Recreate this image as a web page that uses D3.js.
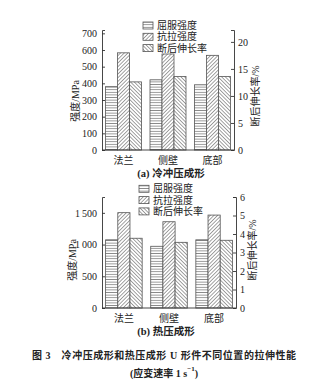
<!DOCTYPE html>
<html><head><meta charset="utf-8">
<script src="https://cdn.jsdelivr.net/npm/d3@7"></script>
<style>
html,body{margin:0;padding:0;background:#fff;}
svg{display:block;}
text{fill:#222;}
</style></head>
<body>
<svg id="c" width="326" height="384"></svg>
<script>
// ---- data ----
const categories = ["法兰", "侧壁", "底部"];
const seriesNames = ["屈服强度", "抗拉强度", "断后伸长率"];
const coldYield = [380, 421, 391];
const coldTensile = [583, 576, 568];
const coldElong = [12.6, 13.6, 13.6];
const hotYield = [1075, 973, 1075];
const hotTensile = [1503, 1360, 1465];
const hotElong = [3.77, 3.55, 3.66];
const coldLeftTicks = [0, 100, 200, 300, 400, 500, 600, 700];
const coldRightTicks = [0, 5, 10, 15, 20];
const hotLeftTicks = [0, 500, 1000, 1500];
const hotRightTicks = [0, 1, 2, 3, 4, 5, 6];
const titleA = "(a) 冷冲压成形";
const titleB = "(b) 热压成形";
const caption1 = "图 3　冷冲压成形和热压成形 U 形件不同位置的拉伸性能";
const leftLabel = "强度/MPa";
const rightLabel = "断后伸长率/%";

const svg = d3.select("#c");
const FONT = "'Liberation Serif','Noto Sans CJK SC',serif";
const CJK = "'Noto Sans CJK SC',sans-serif";

// patterns
const defs = svg.append("defs");
function pat(id, rot, sp) {
  const p = defs.append("pattern").attr("id", id).attr("patternUnits", "userSpaceOnUse")
    .attr("width", sp).attr("height", sp);
  if (rot !== null) p.attr("patternTransform", `rotate(${rot})`);
  p.append("rect").attr("width", sp).attr("height", sp).attr("fill", "#fff");
  if (rot === null) {
    p.append("line").attr("x1", 0).attr("x2", sp).attr("y1", sp / 2).attr("y2", sp / 2)
      .attr("stroke", "#8a8a8a").attr("stroke-width", 0.9);
  } else {
    p.append("line").attr("y1", 0).attr("y2", sp).attr("x1", sp / 2).attr("x2", sp / 2)
      .attr("stroke", "#8a8a8a").attr("stroke-width", 0.8);
  }
}
pat("pH", null, 2.6);
pat("pF", 45, 2.6);
pat("pB", -45, 2.6);
const fills = ["url(#pH)", "url(#pF)", "url(#pB)"];

function panel(cfg) {
  const g = svg.append("g");
  const x = d3.scaleBand().domain(categories).range([cfg.x0, cfg.x1])
    .paddingInner(0.19).paddingOuter(0.08);
  const xs = d3.scaleBand().domain(seriesNames).range([0, x.bandwidth()]);
  const yL = d3.scaleLinear().domain(cfg.leftDomain).range([cfg.yb, cfg.yt]);
  const yR = d3.scaleLinear().domain(cfg.rightDomain).range([cfg.yb, cfg.yt]);

  const rows = categories.map((c, i) => ({
    c, vals: [
      { s: 0, v: cfg.yieldV[i], sc: yL },
      { s: 1, v: cfg.tensV[i], sc: yL },
      { s: 2, v: cfg.elongV[i], sc: yR }]
  }));
  const gg = g.selectAll("g.grp").data(rows).join("g")
    .attr("transform", d => `translate(${x(d.c)},0)`);
  gg.selectAll("rect").data(d => d.vals).join("rect")
    .attr("x", d => xs(seriesNames[d.s]))
    .attr("width", xs.bandwidth())
    .attr("y", d => d.sc(d.v))
    .attr("height", d => cfg.yb - d.sc(d.v))
    .attr("fill", d => fills[d.s])
    .attr("stroke", "#555").attr("stroke-width", 0.8);

  // axes
  const axL = g.append("g").attr("transform", `translate(${cfg.x0},0)`)
    .call(d3.axisLeft(yL).tickValues(cfg.leftTicks).tickSize(-3).tickPadding(5)
      .tickFormat(cfg.leftFmt));
  const axR = g.append("g").attr("transform", `translate(${cfg.x1},0)`)
    .call(d3.axisRight(yR).tickValues(cfg.rightTicks).tickSize(-3).tickPadding(4)
      .tickFormat(d3.format("d")));
  const axB = g.append("g").attr("transform", `translate(0,${cfg.yb})`)
    .call(d3.axisBottom(x).tickSize(0).tickPadding(7));
  [axL, axR, axB].forEach(a => {
    a.select(".domain").attr("stroke", "#333").attr("stroke-width", 0.9);
    a.selectAll(".tick line").attr("stroke", "#333").attr("stroke-width", 0.9);
    a.selectAll("text").attr("font-family", FONT).attr("font-size", 10).attr("fill", "#222");
  });
  axB.selectAll("text").attr("font-family", CJK).attr("font-size", 10);
  axB.select(".domain").attr("d", `M${cfg.x0},0H${cfg.x1}`);

  // axis titles
  g.append("text").attr("transform", `translate(${cfg.llx},${cfg.lly}) rotate(-90)`)
    .attr("text-anchor", "middle").attr("dominant-baseline", "central")
    .attr("font-family", FONT).attr("font-size", 10).text(leftLabel);
  g.append("text").attr("transform", `translate(${cfg.rlx},${cfg.rly}) rotate(-90)`)
    .attr("text-anchor", "middle").attr("dominant-baseline", "central")
    .attr("font-family", FONT).attr("font-size", 10).text(rightLabel);

  // legend
  const lg = g.append("g");
  seriesNames.forEach((s, i) => {
    const cy = cfg.legY + i * 11.3;
    lg.append("rect").attr("x", cfg.legX).attr("y", cy - 3.5).attr("width", 10).attr("height", 7)
      .attr("fill", fills[i]).attr("stroke", "#555").attr("stroke-width", 0.8);
    lg.append("text").attr("x", cfg.legX + 14).attr("y", cy).attr("dominant-baseline", "central")
      .attr("font-family", FONT).attr("font-size", 10).attr("fill", "#333").text(s);
  });

  // panel title
  g.append("text").attr("x", cfg.tx).attr("y", cfg.ty).attr("text-anchor", "middle")
    .attr("dominant-baseline", "central").attr("font-family", FONT).attr("font-weight", "bold")
    .attr("font-size", 10.5).text(cfg.title);
}

panel({
  x0: 102, x1: 234, yb: 150, yt: 30,
  leftDomain: [0, 720], rightDomain: [0, 22.2],
  leftTicks: coldLeftTicks, rightTicks: coldRightTicks,
  leftFmt: d3.format("d"),
  yieldV: coldYield, tensV: coldTensile, elongV: coldElong,
  llx: 75, lly: 101, rlx: 255, rly: 96,
  legX: 143, legY: 25.5,
  title: titleA, tx: 171, ty: 173
});
panel({
  x0: 102, x1: 236, yb: 308, yt: 197,
  leftDomain: [0, 1750], rightDomain: [0, 6],
  leftTicks: hotLeftTicks, rightTicks: hotRightTicks,
  leftFmt: d => d >= 1000 ? d3.format("d")(d).replace(/(\d)(\d{3})$/, "$1\u2009$2") : String(d),
  yieldV: hotYield, tensV: hotTensile, elongV: hotElong,
  llx: 72, lly: 260, rlx: 252, rly: 250,
  legX: 139, legY: 188.8,
  title: titleB, tx: 166, ty: 331.5
});

// caption
svg.append("text").attr("x", 32).attr("y", 355).attr("dominant-baseline", "central")
  .attr("font-family", FONT).attr("font-weight", "bold").attr("font-size", 10)
  .attr("textLength", 264).attr("lengthAdjust", "spacing").text(caption1);
const c2 = svg.append("text").attr("x", 164).attr("y", 372.5).attr("text-anchor", "middle")
  .attr("dominant-baseline", "central").attr("font-family", FONT).attr("font-weight", "bold")
  .attr("font-size", 10);
c2.append("tspan").text("(应变速率 1 s");
c2.append("tspan").attr("dy", -4).attr("font-size", 7).text("−1");
c2.append("tspan").attr("dy", 4).text(")");
</script>
</body></html>
